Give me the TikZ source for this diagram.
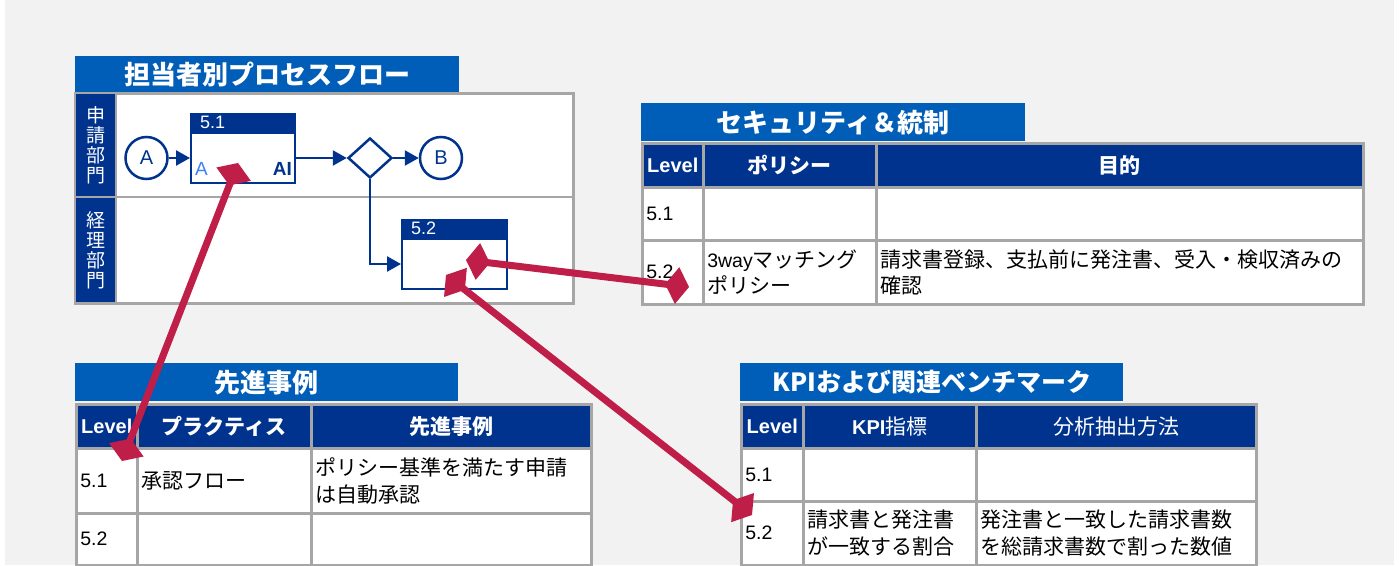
\documentclass[tikz,border=0pt]{standalone}
\usepackage{fontspec}
\setmainfont{Liberation Sans}
\newfontfamily\jp{Noto Sans CJK JP}
\usetikzlibrary{arrows.meta,shapes.geometric,calc}
\definecolor{bg}{HTML}{F2F2F2}
\definecolor{tblue}{HTML}{005EB8}
\definecolor{navy}{HTML}{00338D}
\definecolor{gridc}{HTML}{A6A6A6}
\definecolor{magc}{HTML}{BE1E48}
\definecolor{lblue}{HTML}{3C82F6}
\newcommand\latn[1]{{\rmfamily\fontsize{19.5}{26.5}\selectfont #1}}
\tikzset{
  titlebar/.style={fill=tblue, text=white, font=\jp\bfseries\fontsize{26}{30}\selectfont,
    anchor=north west, inner sep=0pt, minimum width=#1, minimum height=38pt},
  hcell/.style={fill=navy, draw=gridc, line width=2.5pt, text=white,
    font=\jp\bfseries\fontsize{21}{26}\selectfont, anchor=north west, inner sep=0pt, align=center},
  lvl/.style={font=\rmfamily\bfseries\fontsize{20}{24}\selectfont},
  bcell/.style={fill=white, draw=gridc, line width=2.5pt, text=black,
    font=\jp\fontsize{21}{26.5}\selectfont, anchor=north west, inner xsep=4pt, inner ysep=0pt, align=left},
  lane/.style={fill=navy, text=white, anchor=north west, minimum width=39pt, inner sep=0pt,
    align=center, font=\jp\fontsize{19}{20}\selectfont},
  circ/.style={circle, draw=navy, line width=2.5pt, fill=white, minimum size=42pt, inner sep=0pt,
    text=navy, font=\fontsize{20}{20}\selectfont},
  pbox/.style={draw=navy, line width=2pt, fill=white, minimum height=50pt, inner sep=0pt},
  phead/.style={fill=navy, draw=navy, line width=2pt, minimum height=17pt, inner sep=0pt, anchor=south},
  plabel/.style={text=white, font=\fontsize{18}{18}\selectfont, inner sep=0pt, anchor=west},
  flowarr/.style={draw=navy, line width=2.5pt, -{Triangle[length=14pt,width=15pt]}},
  magarr/.style={draw=magc, line width=7pt,
    {Kite[length=24pt,width=37pt,inset=12pt,line width=0pt]}-{Kite[length=24pt,width=37pt,inset=12pt,line width=0pt]}},
}
\begin{document}
\begin{tikzpicture}[x=1pt,y=-1pt]
\useasboundingbox (0,0) rectangle (1399,565);
\fill[white] (0,0) rectangle (1399,565);
\fill[bg] (5,0) rectangle (1394,565);

% ---------- process flow ----------
\node[titlebar=384pt, minimum height=37pt] (ft) at (75,56) {担当者別プロセスフロー};
\node[draw=gridc, fill=white, line width=2.5pt, anchor=north west, minimum width=498pt,
  minimum height=210pt, inner sep=0pt] (frame) at (74,92) {};
\node[lane, minimum height=102pt] (l1) at (76,94) {申\\請\\部\\門};
\node[lane, minimum height=104pt] (l2) at (76,198) {経\\理\\部\\門};
\coordinate (ldiv) at (74,197);
\draw[gridc, line width=2.5pt] (ldiv) -- (ldiv -| frame.east);
\coordinate (vdiv) at (115.5,93);
\draw[gridc, line width=2pt] (vdiv) -- (vdiv |- frame.south);

\node[circ] (A) at (146.5,158) {A};
\node[circ] (B) at (441,158) {B};
\node[pbox, minimum width=104pt] (b51) at (243,158) {};
\node[phead, minimum width=104pt] (b51h) at (b51.north) {};
\node[plabel] (b51l) at ([xshift=10pt]b51h.west) {5.1};
\node[anchor=base west, text=lblue, font=\fontsize{19}{20}\selectfont, inner sep=0pt] (b51a) at (195,175) {A};
\node[anchor=base east, text=navy, font=\bfseries\fontsize{19}{20}\selectfont, inner sep=0pt] (b51ai) at (292,175) {AI};
\node[diamond, draw=navy, line width=2.5pt, fill=white, minimum width=44pt, minimum height=40pt, inner sep=0pt] (d) at (370,158) {};
\node[pbox, minimum width=105pt] (b52) at (454.5,264) {};
\node[phead, minimum width=105pt] (b52h) at (b52.north) {};
\node[plabel] (b52l) at ([xshift=10pt]b52h.west) {5.2};

\draw[flowarr] (A) -- (b51);
\draw[flowarr] (b51) -- (d);
\draw[flowarr] (d) -- (B);
\draw[flowarr] (d.south) |- (b52.west);

% ---------- security ----------
\node[titlebar=384pt] (st) at (641,103) {セキュリティ＆統制};
\node[hcell, lvl, minimum width=61pt, minimum height=44pt] (sh1) at (641,142) {Level};
\node[hcell, minimum width=173pt, minimum height=44pt] (sh2) at (702,142) {ポリシー};
\node[hcell, minimum width=487pt, minimum height=44pt] (sh3) at (875,142) {目的};
\node[bcell, text width=53pt, minimum height=53pt] (s11) at (641,186) {\latn{5.1}};
\node[bcell, text width=165pt, minimum height=53pt] (s12) at (702,186) {};
\node[bcell, text width=479pt, minimum height=53pt] (s13) at (875,186) {};
\node[bcell, text width=53pt, minimum height=64pt] (s21) at (641,239) {\latn{5.2}};
\node[bcell, text width=165pt, minimum height=64pt] (s22) at (702,239) {\latn{3way}マッチング\\ポリシー};
\node[bcell, text width=479pt, minimum height=64pt] (s23) at (875,239) {請求書登録、支払前に発注書、受入・検収済みの\\確認};

% ---------- best practice ----------
\node[titlebar=383pt] (bt) at (75,363) {先進事例};
\node[hcell, lvl, minimum width=61pt, minimum height=44pt] (bh1) at (75,403) {Level};
\node[hcell, minimum width=174pt, minimum height=44pt] (bh2) at (136,403) {プラクティス};
\node[hcell, minimum width=280pt, minimum height=44pt] (bh3) at (310,403) {先進事例};
\node[bcell, text width=53pt, minimum height=65pt] (b11) at (75,447) {\latn{5.1}};
\node[bcell, text width=166pt, minimum height=65pt] (b12) at (136,447) {承認フロー};
\node[bcell, text width=272pt, minimum height=65pt] (b13) at (310,447) {ポリシー基準を満たす申請\\は自動承認};
\node[bcell, text width=53pt, minimum height=52pt] (b21) at (75,512) {\latn{5.2}};
\node[bcell, text width=166pt, minimum height=52pt] (b22) at (136,512) {};
\node[bcell, text width=272pt, minimum height=52pt] (b23) at (310,512) {};

% ---------- KPI ----------
\node[titlebar=383pt, font=\jp\bfseries\fontsize{25}{30}\selectfont] (kt) at (740,363) {KPIおよび関連ベンチマーク};
\node[hcell, lvl, minimum width=62pt, minimum height=44pt] (kh1) at (740,403) {Level};
\node[hcell, font=\jp\fontsize{21}{26}\selectfont, minimum width=173pt, minimum height=44pt] (kh2) at (802,403) {{\rmfamily\bfseries\fontsize{20}{24}\selectfont KPI}指標};
\node[hcell, font=\jp\fontsize{21}{26}\selectfont, minimum width=280pt, minimum height=44pt] (kh3) at (975,403) {分析抽出方法};
\node[bcell, text width=54pt, minimum height=53pt] (k11) at (740,447) {\latn{5.1}};
\node[bcell, text width=165pt, minimum height=53pt] (k12) at (802,447) {};
\node[bcell, text width=272pt, minimum height=53pt] (k13) at (975,447) {};
\node[bcell, text width=54pt, minimum height=64pt] (k21) at (740,500) {\latn{5.2}};
\node[bcell, text width=165pt, minimum height=64pt] (k22) at (802,500) {請求書と発注書\\が一致する割合};
\node[bcell, text width=272pt, minimum height=64pt] (k23) at (975,500) {発注書と一致した請求書数\\を総請求書数で割った数値};

% ---------- magenta links ----------
\coordinate (m1a) at (238,163);
\coordinate (m1b) at (122,461);
\coordinate (m2a) at (466,260);
\coordinate (m2b) at (689,287);
\coordinate (m3a) at (446,275);
\coordinate (m3b) at (752,515);
\draw[magarr] (m1a) -- (m1b);
\draw[magarr] (m2a) -- (m2b);
\draw[magarr] (m3a) -- (m3b);
\end{tikzpicture}
\end{document}
